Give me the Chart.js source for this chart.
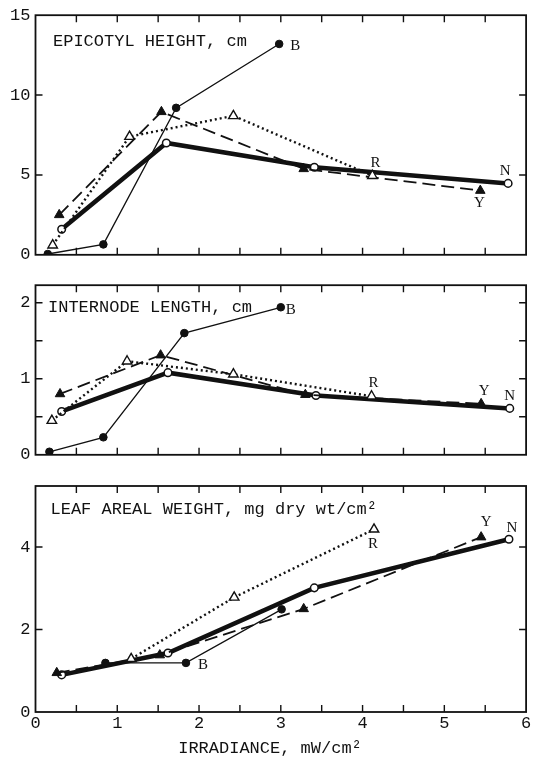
<!DOCTYPE html>
<html>
<head>
<meta charset="utf-8">
<script src="https://cdn.jsdelivr.net/npm/chart.js@4.4.1/dist/chart.umd.min.js"></script>
<style>
  html, body { margin: 0; padding: 0; background: #fff; }
  #wrap { position: relative; width: 533px; height: 757px; }
  .panel { position: absolute; left: 0; width: 533px; }
</style>
</head>
<body>
<div id="wrap">
  <div class="panel" style="top:0;height:270px"><canvas id="epicotyl"></canvas></div>
  <div class="panel" style="top:270px;height:200px"><canvas id="internode"></canvas></div>
  <div class="panel" style="top:470px;height:287px"><canvas id="leaf"></canvas></div>
</div>
<script>
// ---- Epicotyl height, cm (x = irradiance, mW/cm^2) ----
const epiB_x = [0.15, 0.83, 1.72, 2.98];
const epiB_y = [0.05, 0.65, 9.2, 13.2];
const epiR_x = [0.21, 1.15, 2.42, 4.12];
const epiR_y = [0.6, 7.4, 8.7, 4.95];
const epiY_x = [0.29, 1.54, 3.28, 5.44];
const epiY_y = [2.5, 8.95, 5.38, 4.02];
const epiN_x = [0.32, 1.6, 3.41, 5.78];
const epiN_y = [1.6, 7.0, 5.48, 4.47];

// ---- Internode length, cm ----
const intB_x = [0.17, 0.83, 1.82, 3.0];
const intB_y = [0.04, 0.23, 1.6, 1.94];
const intR_x = [0.2, 1.12, 2.42, 4.11];
const intR_y = [0.45, 1.23, 1.06, 0.77];
const intY_x = [0.3, 1.53, 3.3, 5.45];
const intY_y = [0.8, 1.31, 0.79, 0.67];
const intN_x = [0.32, 1.62, 3.43, 5.8];
const intN_y = [0.57, 1.08, 0.78, 0.61];

// ---- Leaf areal weight, mg dry wt/cm^2 ----
const lawB_x = [0.855, 1.84, 3.01];
const lawB_y = [1.19, 1.19, 2.49];
const lawR_x = [1.17, 2.43, 4.14];
const lawR_y = [1.29, 2.78, 4.43];
const lawY_x = [0.26, 1.52, 3.28, 5.45];
const lawY_y = [0.95, 1.38, 2.5, 4.24];
const lawN_x = [0.32, 1.62, 3.41, 5.79];
const lawN_y = [0.9, 1.43, 3.01, 4.19];

// ---- axes ----
const xTickMarks = [0.5, 1, 1.5, 2, 2.5, 3, 3.5, 4, 4.5, 5, 5.5];
const epiYMarks = [5, 10];
const intYMarks = [0.5, 1, 1.5, 2];
const lawYMarks = [2, 4];

const INK = '#111111';
const MONO = '"Liberation Mono", "Courier New", monospace';
const SERIF = '"Liberation Serif", "Times New Roman", serif';

// line / marker style for each light source
const styleB = { borderColor: INK, borderWidth: 1.3, pointStyle: 'circle', pointRadius: 3.8,
  pointBackgroundColor: INK, pointBorderColor: INK, pointBorderWidth: 1 };
const styleR = { borderColor: INK, borderWidth: 2.4, borderDash: [2, 3], pointStyle: 'triangle', pointRadius: 5.5,
  pointBackgroundColor: '#fff', pointBorderColor: INK, pointBorderWidth: 1.4 };
const styleY = { borderColor: INK, borderWidth: 1.8, borderDash: [13, 6], pointStyle: 'triangle', pointRadius: 5.5,
  pointBackgroundColor: INK, pointBorderColor: INK, pointBorderWidth: 1 };
const styleN = { borderColor: INK, borderWidth: 4.5, pointStyle: 'circle', pointRadius: 3.8,
  pointBackgroundColor: '#fff', pointBorderColor: INK, pointBorderWidth: 1.5 };

function series(xs, ys, style) {
  return Object.assign({ data: xs.map((x, i) => ({ x: x, y: ys[i] })), tension: 0, fill: false }, style);
}

// frame, inward tick marks, panel heading and series letters
const panelDecor = {
  id: 'panelDecor',
  afterDatasetsDraw(chart, args, o) {
    const { ctx, chartArea: a } = chart;
    const xs = chart.scales.x, ys = chart.scales.y;
    ctx.save();
    ctx.strokeStyle = INK;
    ctx.lineWidth = 1.8;
    ctx.strokeRect(a.left, a.top, a.right - a.left, a.bottom - a.top);
    ctx.lineWidth = 1.4;
    ctx.beginPath();
    for (const v of xTickMarks) {
      const px = xs.getPixelForValue(v);
      ctx.moveTo(px, a.top); ctx.lineTo(px, a.top + 7);
      ctx.moveTo(px, a.bottom); ctx.lineTo(px, a.bottom - 7);
    }
    for (const v of o.yMarks) {
      const py = ys.getPixelForValue(v);
      ctx.moveTo(a.left, py); ctx.lineTo(a.left + 7, py);
      ctx.moveTo(a.right, py); ctx.lineTo(a.right - 7, py);
    }
    ctx.stroke();

    ctx.fillStyle = INK;
    ctx.font = '17px ' + MONO;
    ctx.textBaseline = 'middle';
    ctx.textAlign = 'left';
    ctx.fillText(o.heading, a.left + o.hx, a.top + o.hy);

    ctx.font = '15px ' + SERIF;
    ctx.textAlign = 'center';
    for (const L of o.letters) {
      const el = chart.getDatasetMeta(L.ds).data[L.pt];
      ctx.fillText(L.text, el.x + L.dx, el.y + L.dy);
    }

    if (o.axisTitle) {
      ctx.font = '17px ' + MONO;
      ctx.fillText(o.axisTitle, o.axisTitleX, o.axisTitleY);
    }
    ctx.restore();
  }
};

function makePanel(id, cfg) {
  return new Chart(document.getElementById(id), {
    type: 'line',
    data: { datasets: cfg.datasets },
    options: {
      responsive: true,
      maintainAspectRatio: false,
      animation: false,
      events: [],
      layout: { padding: cfg.padding },
      plugins: { legend: { display: false }, tooltip: { enabled: false }, panelDecor: cfg.decor },
      scales: {
        x: {
          type: 'linear', min: 0, max: 6,
          display: cfg.showX,
          grid: { display: false, drawTicks: false },
          border: { display: false },
          ticks: { stepSize: 1, autoSkip: false, maxRotation: 0, padding: 1,
                   color: INK, font: { family: MONO, size: 17 } },
          afterFit: cfg.showX ? (s) => { s.height = 45; } : undefined
        },
        y: {
          type: 'linear', min: 0, max: cfg.yMax,
          grid: { display: false, drawTicks: false },
          border: { display: false },
          ticks: { stepSize: cfg.yStep, includeBounds: false, padding: 5,
                   color: INK, font: { family: MONO, size: 17 } },
          afterFit: (s) => { s.width = 35.5; }
        }
      }
    },
    plugins: [panelDecor]
  });
}

makePanel('epicotyl', {
  yMax: 15, yStep: 5, showX: false,
  padding: { top: 12, right: 3, bottom: 10, left: 0 },
  datasets: [
    series(epiB_x, epiB_y, styleB),
    series(epiR_x, epiR_y, styleR),
    series(epiY_x, epiY_y, styleY),
    series(epiN_x, epiN_y, styleN)
  ],
  decor: {
    yMarks: epiYMarks, heading: 'EPICOTYL HEIGHT, cm', hx: 17.5, hy: 26,
    letters: [
      { ds: 0, pt: 3, text: 'B', dx: 16, dy: 2 },
      { ds: 1, pt: 3, text: 'R', dx: 3, dy: -13 },
      { ds: 2, pt: 3, text: 'Y', dx: -1, dy: 12 },
      { ds: 3, pt: 3, text: 'N', dx: -3, dy: -12 }
    ]
  }
});

makePanel('internode', {
  yMax: 2.23, yStep: 1, showX: false,
  padding: { top: 10, right: 3, bottom: 4, left: 0 },
  datasets: [
    series(intB_x, intB_y, styleB),
    series(intR_x, intR_y, styleR),
    series(intY_x, intY_y, styleY),
    series(intN_x, intN_y, styleN)
  ],
  decor: {
    yMarks: intYMarks, heading: 'INTERNODE LENGTH, cm', hx: 12.5, hy: 22,
    letters: [
      { ds: 0, pt: 3, text: 'B', dx: 10, dy: 3 },
      { ds: 1, pt: 3, text: 'R', dx: 2, dy: -13 },
      { ds: 2, pt: 3, text: 'Y', dx: 3, dy: -13 },
      { ds: 3, pt: 3, text: 'N', dx: 0, dy: -12 }
    ]
  }
});

makePanel('leaf', {
  yMax: 5.48, yStep: 2, showX: true,
  padding: { top: 16, right: 3, bottom: 0, left: 0 },
  datasets: [
    series(lawB_x, lawB_y, styleB),
    series(lawR_x, lawR_y, styleR),
    series(lawY_x, lawY_y, styleY),
    series(lawN_x, lawN_y, styleN)
  ],
  decor: {
    yMarks: lawYMarks, heading: 'LEAF AREAL WEIGHT, mg dry wt/cm\u00B2', hx: 15, hy: 23,
    axisTitle: 'IRRADIANCE, mW/cm\u00B2', axisTitleX: 270, axisTitleY: 278,
    letters: [
      { ds: 0, pt: 1, text: 'B', dx: 17, dy: 2 },
      { ds: 1, pt: 2, text: 'R', dx: -1, dy: 15 },
      { ds: 2, pt: 3, text: 'Y', dx: 5, dy: -15 },
      { ds: 3, pt: 3, text: 'N', dx: 3, dy: -11 }
    ]
  }
});
</script>
</body>
</html>
